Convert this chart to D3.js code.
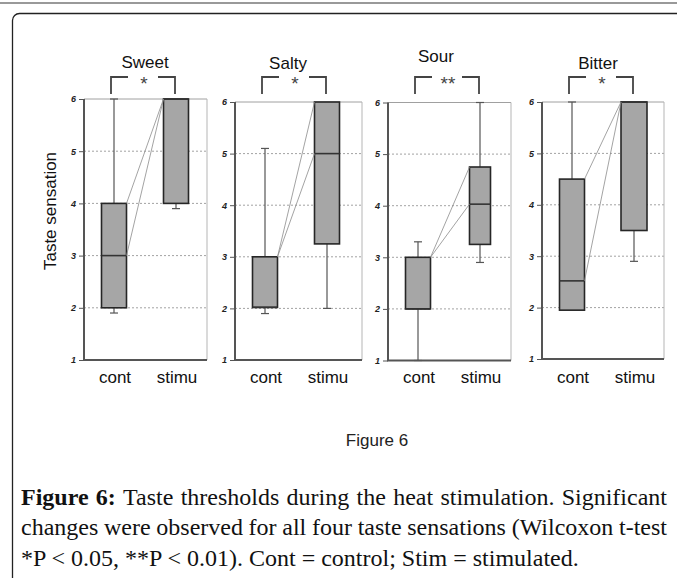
<!DOCTYPE html>
<html><head><meta charset="utf-8">
<script src="https://cdn.jsdelivr.net/npm/d3@7"></script>
<style>body{margin:0;background:#fff} svg{display:block}</style>
</head><body>
<svg id="c" width="677" height="578"></svg>
<script>
// ---------- data ----------
const categories = ["Sweet", "Salty", "Sour", "Bitter"];
const groups = ["cont", "stimu"];
const significance = ["*", "*", "**", "*"];
// [lower whisker, Q1, median, Q3, upper whisker]
const contStats = [[1.9, 2, 3, 4, 6], [1.9, 2.02, 2.02, 3, 5.1], [1, 2, 2, 3, 3.3], [1.95, 1.95, 2.52, 4.5, 6]];
const stimStats = [[3.9, 4, 6, 6, 6], [2, 3.25, 5, 6, 6], [2.9, 3.25, 4.03, 4.75, 6], [2.9, 3.5, 6, 6, 6]];
// connecting lines: [cont value, stim value]
const links = [[[4, 6], [3, 6]], [[3, 6], [3, 5]], [[3, 4.75], [3, 4.03]], [[4.5, 6], [2.52, 6]]];
const yTicks = [1, 2, 3, 4, 5, 6];
const yLabel = "Taste sensation";
const figLabel = "Figure 6";
const captionBold = "Figure 6:";
const captionLines = [
  "Figure 6: Taste thresholds during the heat stimulation. Significant",
  "changes were observed for all four taste sensations (Wilcoxon t-test",
  "*P < 0.05, **P < 0.01). Cont = control; Stim = stimulated."
];

// ---------- layout ----------
const axisX = [84, 235, 388, 542];
const plotW = [123, 127, 123, 122];
const yTop = [99, 102, 102.5, 102];
const yBot = [360, 360, 360.5, 359];
const titleY = [68, 69, 62, 69];
const titleDx = [0, -8, -13, -5];
const boxW = [[25, 25], [25, 25], [25, 21], [25, 26]];
const sans = "'Liberation Sans', Arial, sans-serif";
const serif = "'Liberation Serif', 'Times New Roman', serif";

const svg = d3.select("#c");

// page frame
svg.append("line").attr("x1", 0).attr("x2", 677).attr("y1", 3).attr("y2", 3)
  .attr("stroke", "#777").attr("stroke-width", 1.6);
svg.append("rect").attr("x", 12.5).attr("y", 13.5).attr("width", 700).attr("height", 620)
  .attr("rx", 7).attr("fill", "none").attr("stroke", "#222").attr("stroke-width", 1.3);

categories.forEach((cat, i) => {
  const x0 = axisX[i], x1 = axisX[i] + plotW[i];
  const y = d3.scaleLinear().domain([1, 6]).range([yBot[i], yTop[i]]);
  const x = d3.scalePoint().domain(groups).range([x0 + 30, x0 + 92]);
  const g = svg.append("g");

  // grid lines
  g.selectAll(".grid").data(yTicks.filter(t => t > 1 && t < 6)).join("line")
    .attr("x1", x0).attr("x2", x1).attr("y1", d => y(d)).attr("y2", d => y(d))
    .attr("stroke", "#8a8a8a").attr("stroke-width", 0.8).attr("stroke-dasharray", "2,2");
  g.append("line").attr("x1", x0).attr("x2", x1).attr("y1", y(6)).attr("y2", y(6))
    .attr("stroke", "#a0a0a0").attr("stroke-width", 1);
  g.append("line").attr("x1", x1).attr("x2", x1).attr("y1", y(6)).attr("y2", y(1))
    .attr("stroke", "#b5b5b5").attr("stroke-width", 1);

  // y axis
  const ax = g.append("g").attr("transform", `translate(${x0},0)`)
    .call(d3.axisLeft(y).tickValues(yTicks).tickSize(5).tickPadding(3).tickFormat(d3.format("d")));
  ax.select(".domain").attr("stroke", "#555").attr("stroke-width", 2).attr("d", `M0,${y(6)}V${y(1)}`);
  ax.selectAll(".tick line").attr("stroke", "#555").attr("stroke-width", 1);
  ax.selectAll(".tick text").attr("font-family", sans).attr("font-size", 9)
    .attr("font-weight", "bold").attr("font-style", "italic").attr("fill", "#222");
  // x axis baseline
  g.append("line").attr("x1", x0 - 1).attr("x2", x1).attr("y1", y(1)).attr("y2", y(1))
    .attr("stroke", "#555").attr("stroke-width", 2);

  const stats = [contStats[i], stimStats[i]];
  // whiskers
  stats.forEach((s, k) => {
    const cx = x(groups[k]);
    if (s[0] < s[1]) {
      g.append("line").attr("x1", cx).attr("x2", cx).attr("y1", y(s[0])).attr("y2", y(s[1]))
        .attr("stroke", "#555").attr("stroke-width", 1.2);
      g.append("line").attr("x1", cx - 4).attr("x2", cx + 4).attr("y1", y(s[0])).attr("y2", y(s[0]))
        .attr("stroke", "#555").attr("stroke-width", 1.2);
    }
    if (s[4] > s[3]) {
      g.append("line").attr("x1", cx).attr("x2", cx).attr("y1", y(s[4])).attr("y2", y(s[3]))
        .attr("stroke", "#555").attr("stroke-width", 1.2);
      g.append("line").attr("x1", cx - 4).attr("x2", cx + 4).attr("y1", y(s[4])).attr("y2", y(s[4]))
        .attr("stroke", "#555").attr("stroke-width", 1.2);
    }
  });
  // boxes
  stats.forEach((s, k) => {
    const cx = x(groups[k]), w = boxW[i][k];
    g.append("rect").attr("x", cx - w / 2).attr("width", w)
      .attr("y", y(s[3])).attr("height", y(s[1]) - y(s[3]))
      .attr("fill", "#a6a6a6").attr("stroke", "#262626").attr("stroke-width", 1.6);
    g.append("line").attr("x1", cx - w / 2).attr("x2", cx + w / 2)
      .attr("y1", y(s[2])).attr("y2", y(s[2]))
      .attr("stroke", "#333").attr("stroke-width", 1.6);
  });
  // connecting lines
  const xr = x("cont") + boxW[i][0] / 2, xl = x("stimu") - boxW[i][1] / 2;
  links[i].forEach(([a, b]) => {
    g.append("line").attr("x1", xr).attr("y1", y(a)).attr("x2", xl).attr("y2", y(b))
      .attr("stroke", "#8c8c8c").attr("stroke-width", 0.8);
  });

  // x labels
  groups.forEach(gr => {
    g.append("text").attr("x", x(gr) + 1).attr("y", 383).attr("text-anchor", "middle")
      .attr("font-family", sans).attr("font-size", 17).attr("fill", "#111").text(gr);
  });

  // title
  const mid = (x("cont") + x("stimu")) / 2;
  g.append("text").attr("x", mid + titleDx[i]).attr("y", titleY[i]).attr("text-anchor", "middle")
    .attr("font-family", sans).attr("font-size", 17).attr("fill", "#111").text(cat);

  // significance bracket
  const bl = x("cont") - 3, br = x("stimu") - 1, bm = (bl + br) / 2, gap = 15;
  g.append("path").attr("d", `M${bl},94V77H${bm - gap}M${bm + gap},77H${br}V94`)
    .attr("fill", "none").attr("stroke", "#444").attr("stroke-width", 1.8);
  g.append("text").attr("x", bm + 1).attr("y", 90).attr("text-anchor", "middle")
    .attr("font-family", sans).attr("font-size", 19).attr("fill", "#444").text(significance[i]);
});

// y-axis title
svg.append("text").attr("transform", "translate(56,211) rotate(-90)").attr("text-anchor", "middle")
  .attr("font-family", sans).attr("font-size", 17).attr("fill", "#111").text(yLabel);

// figure label
svg.append("text").attr("x", 377).attr("y", 446).attr("text-anchor", "middle")
  .attr("font-family", sans).attr("font-size", 17).attr("fill", "#222").text(figLabel);

// caption (justified)
const capX0 = 21, capX1 = 667, capY = [505, 535, 566], capSize = 24;
captionLines.forEach((line, li) => {
  const cg = svg.append("g");
  if (li === captionLines.length - 1) {
    cg.append("text").attr("x", capX0).attr("y", capY[li]).attr("font-family", serif)
      .attr("font-size", capSize).attr("fill", "#111").attr("xml:space", "preserve").text(line);
    return;
  }
  let words = line.split(" ");
  const boldCount = li === 0 ? captionBold.split(" ").length : 0;
  const nodes = words.map((w, k) => cg.append("text").attr("y", capY[li]).attr("font-family", serif)
    .attr("font-size", capSize).attr("fill", "#111")
    .attr("font-weight", k < boldCount ? "bold" : "normal").text(w));
  const widths = nodes.map(n => n.node().getComputedTextLength());
  const gapW = (capX1 - capX0 - d3.sum(widths)) / (words.length - 1);
  let cx = capX0;
  nodes.forEach((n, k) => { n.attr("x", cx); cx += widths[k] + gapW; });
});
</script>
</body></html>
